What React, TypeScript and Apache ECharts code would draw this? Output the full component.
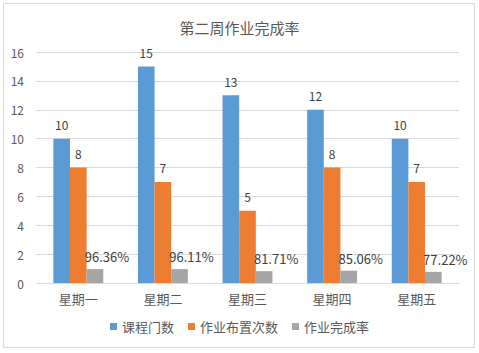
import React, { useEffect, useRef } from "react";
import * as echarts from "echarts";

const categories = ["星期一", "星期二", "星期三", "星期四", "星期五"];
const courseCount = [10, 15, 13, 12, 10];
const assignCount = [8, 7, 5, 8, 7];
const completionRate = [0.9636, 0.9611, 0.8171, 0.8506, 0.7722];
const seriesNames = ["课程门数", "作业布置次数", "作业完成率"];
const yTicks = { min: 0, max: 16, interval: 2 };

const FONT = "'Noto Sans CJK SC', 'Noto Sans', sans-serif";

export default function App() {
  const ref = useRef<HTMLDivElement>(null);
  useEffect(() => {
    if (!ref.current) return;
    const chart = echarts.init(ref.current, undefined, { renderer: "svg" });
    const labelBase = {
      show: true,
      position: "top" as const,
      distance: 8,
      color: "#404040",
      fontSize: 12,
      fontFamily: FONT,
    };
    chart.setOption({
      animation: false,
      backgroundColor: "#ffffff",
      title: {
        text: "第二周作业完成率",
        left: "center",
        top: 15,
        textStyle: { color: "#595959", fontSize: 15, fontWeight: "normal", fontFamily: FONT },
      },
      graphic: [
        {
          type: "rect",
          shape: { x: 3.5, y: 3.5, width: 471, height: 344 },
          style: { fill: "none", stroke: "#D9D9D9", lineWidth: 1 },
          silent: true,
        },
      ],
      legend: {
        bottom: 15,
        left: "center",
        itemWidth: 7,
        itemHeight: 7,
        itemGap: 14,
        icon: "rect",
        textStyle: { color: "#595959", fontSize: 13, fontFamily: FONT },
        data: seriesNames,
      },
      grid: { left: 36, right: 20, top: 52, bottom: 70 },
      xAxis: {
        type: "category",
        data: categories,
        axisLine: { lineStyle: { color: "#D9D9D9" } },
        axisTick: { show: false },
        axisLabel: { color: "#595959", fontSize: 13, margin: 9, fontFamily: FONT },
      },
      yAxis: {
        type: "value",
        min: yTicks.min,
        max: yTicks.max,
        interval: yTicks.interval,
        axisLine: { show: false },
        axisTick: { show: false },
        splitLine: { lineStyle: { color: "#D9D9D9" } },
        axisLabel: { color: "#595959", fontSize: 12, margin: 12, fontFamily: FONT },
      },
      series: [
        {
          name: seriesNames[0],
          type: "bar",
          data: courseCount,
          barGap: "0%",
          barCategoryGap: "41%",
          itemStyle: { color: "#5B9BD5" },
          label: { ...labelBase },
        },
        {
          name: seriesNames[1],
          type: "bar",
          data: assignCount,
          barGap: "0%",
          barCategoryGap: "41%",
          itemStyle: { color: "#ED7D31" },
          label: { ...labelBase },
        },
        {
          name: seriesNames[2],
          type: "bar",
          data: completionRate,
          barGap: "0%",
          barCategoryGap: "41%",
          itemStyle: { color: "#A5A5A5" },
          label: {
            ...labelBase,
            fontSize: 13,
            distance: 6,
            offset: [12, 0],
            formatter: (p: any) => (p.value * 100).toFixed(2) + "%",
          },
        },
      ],
    });
    return () => chart.dispose();
  }, []);
  return (
    <div
      ref={ref}
      style={{ position: "fixed", left: 0, top: 0, width: 479, height: 353, background: "#fff" }}
    />
  );
}
